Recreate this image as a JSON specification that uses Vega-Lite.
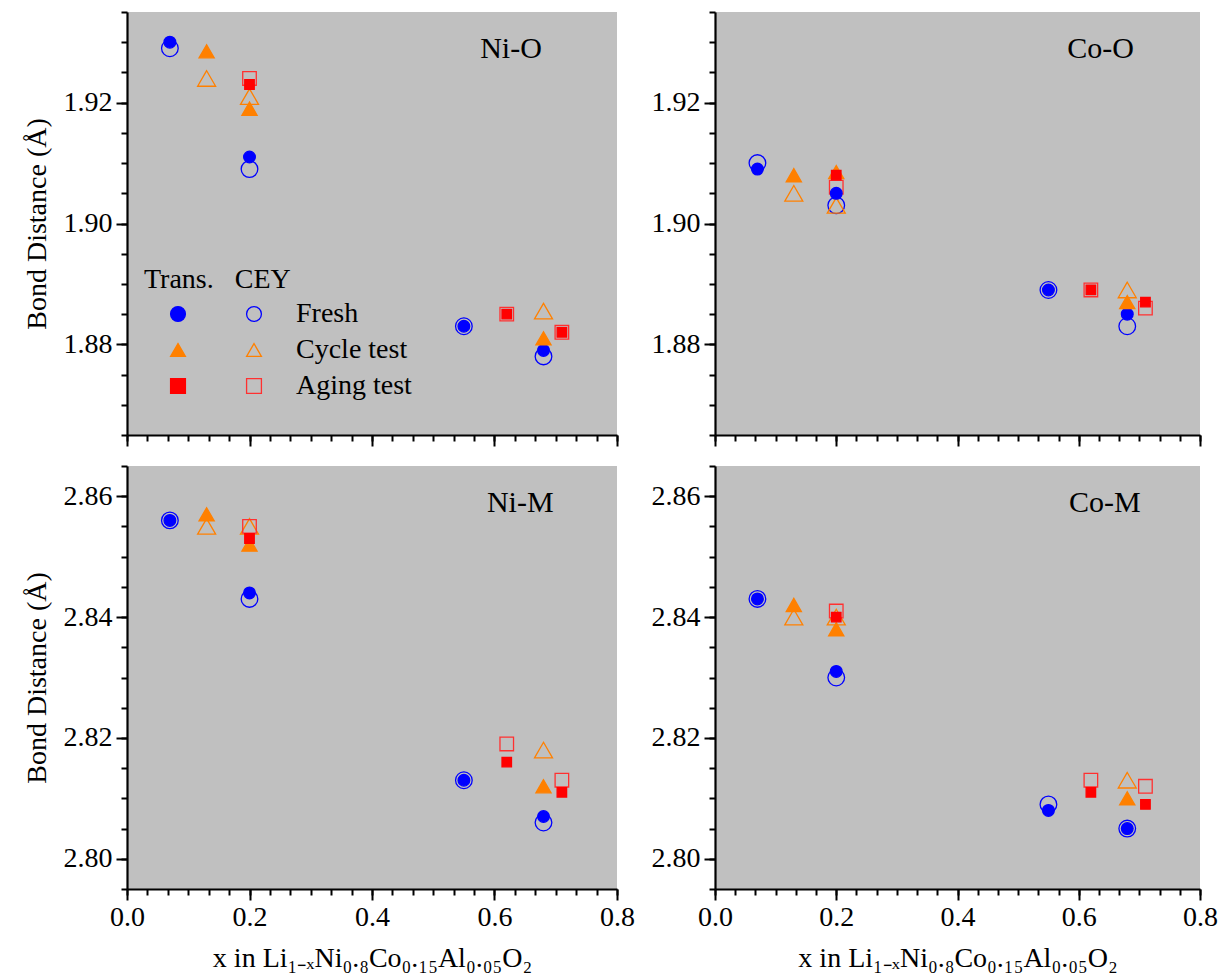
{
  "$schema": "https://vega.github.io/schema/vega-lite/v6.json",
  "padding": {"left": 23, "top": 11, "right": 5, "bottom": 5},
  "datasets": {
    "bonds": [
      {"panel": "Ni-O", "series": "CEY Fresh", "x": 0.07, "d": 1.929},
      {"panel": "Ni-O", "series": "CEY Fresh", "x": 0.2, "d": 1.909},
      {"panel": "Ni-O", "series": "CEY Fresh", "x": 0.55, "d": 1.883},
      {"panel": "Ni-O", "series": "CEY Fresh", "x": 0.68, "d": 1.878},
      {"panel": "Ni-O", "series": "CEY Cycle test", "x": 0.13, "d": 1.924},
      {"panel": "Ni-O", "series": "CEY Cycle test", "x": 0.2, "d": 1.921},
      {"panel": "Ni-O", "series": "CEY Cycle test", "x": 0.68, "d": 1.8855},
      {"panel": "Ni-O", "series": "CEY Aging test", "x": 0.2, "d": 1.924},
      {"panel": "Ni-O", "series": "CEY Aging test", "x": 0.62, "d": 1.885},
      {"panel": "Ni-O", "series": "CEY Aging test", "x": 0.71, "d": 1.882},
      {"panel": "Ni-O", "series": "Trans. Fresh", "x": 0.07, "d": 1.930},
      {"panel": "Ni-O", "series": "Trans. Fresh", "x": 0.2, "d": 1.911},
      {"panel": "Ni-O", "series": "Trans. Fresh", "x": 0.55, "d": 1.883},
      {"panel": "Ni-O", "series": "Trans. Fresh", "x": 0.68, "d": 1.879},
      {"panel": "Ni-O", "series": "Trans. Cycle test", "x": 0.13, "d": 1.9285},
      {"panel": "Ni-O", "series": "Trans. Cycle test", "x": 0.2, "d": 1.919},
      {"panel": "Ni-O", "series": "Trans. Cycle test", "x": 0.68, "d": 1.881},
      {"panel": "Ni-O", "series": "Trans. Aging test", "x": 0.2, "d": 1.923},
      {"panel": "Ni-O", "series": "Trans. Aging test", "x": 0.62, "d": 1.885},
      {"panel": "Ni-O", "series": "Trans. Aging test", "x": 0.71, "d": 1.882},

      {"panel": "Co-O", "series": "CEY Fresh", "x": 0.07, "d": 1.910},
      {"panel": "Co-O", "series": "CEY Fresh", "x": 0.2, "d": 1.903},
      {"panel": "Co-O", "series": "CEY Fresh", "x": 0.55, "d": 1.889},
      {"panel": "Co-O", "series": "CEY Fresh", "x": 0.68, "d": 1.883},
      {"panel": "Co-O", "series": "CEY Cycle test", "x": 0.13, "d": 1.905},
      {"panel": "Co-O", "series": "CEY Cycle test", "x": 0.2, "d": 1.903},
      {"panel": "Co-O", "series": "CEY Cycle test", "x": 0.68, "d": 1.889},
      {"panel": "Co-O", "series": "CEY Aging test", "x": 0.2, "d": 1.906},
      {"panel": "Co-O", "series": "CEY Aging test", "x": 0.62, "d": 1.889},
      {"panel": "Co-O", "series": "CEY Aging test", "x": 0.71, "d": 1.886},
      {"panel": "Co-O", "series": "Trans. Fresh", "x": 0.07, "d": 1.909},
      {"panel": "Co-O", "series": "Trans. Fresh", "x": 0.2, "d": 1.905},
      {"panel": "Co-O", "series": "Trans. Fresh", "x": 0.55, "d": 1.889},
      {"panel": "Co-O", "series": "Trans. Fresh", "x": 0.68, "d": 1.885},
      {"panel": "Co-O", "series": "Trans. Cycle test", "x": 0.13, "d": 1.908},
      {"panel": "Co-O", "series": "Trans. Cycle test", "x": 0.2, "d": 1.9085},
      {"panel": "Co-O", "series": "Trans. Cycle test", "x": 0.68, "d": 1.887},
      {"panel": "Co-O", "series": "Trans. Aging test", "x": 0.2, "d": 1.908},
      {"panel": "Co-O", "series": "Trans. Aging test", "x": 0.62, "d": 1.889},
      {"panel": "Co-O", "series": "Trans. Aging test", "x": 0.71, "d": 1.887},

      {"panel": "Ni-M", "series": "CEY Fresh", "x": 0.07, "d": 2.856},
      {"panel": "Ni-M", "series": "CEY Fresh", "x": 0.2, "d": 2.843},
      {"panel": "Ni-M", "series": "CEY Fresh", "x": 0.55, "d": 2.813},
      {"panel": "Ni-M", "series": "CEY Fresh", "x": 0.68, "d": 2.806},
      {"panel": "Ni-M", "series": "CEY Cycle test", "x": 0.13, "d": 2.855},
      {"panel": "Ni-M", "series": "CEY Cycle test", "x": 0.2, "d": 2.855},
      {"panel": "Ni-M", "series": "CEY Cycle test", "x": 0.68, "d": 2.818},
      {"panel": "Ni-M", "series": "CEY Aging test", "x": 0.2, "d": 2.855},
      {"panel": "Ni-M", "series": "CEY Aging test", "x": 0.62, "d": 2.819},
      {"panel": "Ni-M", "series": "CEY Aging test", "x": 0.71, "d": 2.813},
      {"panel": "Ni-M", "series": "Trans. Fresh", "x": 0.07, "d": 2.856},
      {"panel": "Ni-M", "series": "Trans. Fresh", "x": 0.2, "d": 2.844},
      {"panel": "Ni-M", "series": "Trans. Fresh", "x": 0.55, "d": 2.813},
      {"panel": "Ni-M", "series": "Trans. Fresh", "x": 0.68, "d": 2.807},
      {"panel": "Ni-M", "series": "Trans. Cycle test", "x": 0.13, "d": 2.857},
      {"panel": "Ni-M", "series": "Trans. Cycle test", "x": 0.2, "d": 2.852},
      {"panel": "Ni-M", "series": "Trans. Cycle test", "x": 0.68, "d": 2.812},
      {"panel": "Ni-M", "series": "Trans. Aging test", "x": 0.2, "d": 2.853},
      {"panel": "Ni-M", "series": "Trans. Aging test", "x": 0.62, "d": 2.816},
      {"panel": "Ni-M", "series": "Trans. Aging test", "x": 0.71, "d": 2.811},

      {"panel": "Co-M", "series": "CEY Fresh", "x": 0.07, "d": 2.843},
      {"panel": "Co-M", "series": "CEY Fresh", "x": 0.2, "d": 2.830},
      {"panel": "Co-M", "series": "CEY Fresh", "x": 0.55, "d": 2.809},
      {"panel": "Co-M", "series": "CEY Fresh", "x": 0.68, "d": 2.805},
      {"panel": "Co-M", "series": "CEY Cycle test", "x": 0.13, "d": 2.840},
      {"panel": "Co-M", "series": "CEY Cycle test", "x": 0.2, "d": 2.840},
      {"panel": "Co-M", "series": "CEY Cycle test", "x": 0.68, "d": 2.813},
      {"panel": "Co-M", "series": "CEY Aging test", "x": 0.2, "d": 2.841},
      {"panel": "Co-M", "series": "CEY Aging test", "x": 0.62, "d": 2.813},
      {"panel": "Co-M", "series": "CEY Aging test", "x": 0.71, "d": 2.812},
      {"panel": "Co-M", "series": "Trans. Fresh", "x": 0.07, "d": 2.843},
      {"panel": "Co-M", "series": "Trans. Fresh", "x": 0.2, "d": 2.831},
      {"panel": "Co-M", "series": "Trans. Fresh", "x": 0.55, "d": 2.808},
      {"panel": "Co-M", "series": "Trans. Fresh", "x": 0.68, "d": 2.805},
      {"panel": "Co-M", "series": "Trans. Cycle test", "x": 0.13, "d": 2.842},
      {"panel": "Co-M", "series": "Trans. Cycle test", "x": 0.2, "d": 2.838},
      {"panel": "Co-M", "series": "Trans. Cycle test", "x": 0.68, "d": 2.810},
      {"panel": "Co-M", "series": "Trans. Aging test", "x": 0.2, "d": 2.840},
      {"panel": "Co-M", "series": "Trans. Aging test", "x": 0.62, "d": 2.811},
      {"panel": "Co-M", "series": "Trans. Aging test", "x": 0.71, "d": 2.809}
    ]
  },
  "columns": 2,
  "bounds": "flush",
  "spacing": {"row": 31, "column": 98},
  "concat": [
    {
      "width": 490, "height": 423,
      "resolve": {"axis": {"x": "independent", "y": "independent"}},
      "layer": [
        {
          "data": {"name": "bonds"},
          "transform": [{"filter": "datum.panel == 'Ni-O'"}],
          "mark": {"type": "point", "opacity": 1, "strokeWidth": 1.3},
          "encoding": {
            "x": {"field": "x", "type": "quantitative", "scale": {"domain": [0, 0.8], "nice": false, "zero": false},
              "axis": {"values": [0, 0.2, 0.4, 0.6, 0.8], "tickSize": 11, "labels": false, "title": null, "orient": "bottom"}},
            "y": {"field": "d", "type": "quantitative", "scale": {"domain": [1.865, 1.935], "nice": false, "zero": false},
              "axis": {"values": [1.88, 1.9, 1.92], "tickSize": 11, "format": ".2f", "labelPadding": 4, "title": "Bond Distance (Å)", "titlePadding": 12, "orient": "left"}},
            "fill": {"field": "series", "type": "nominal",
              "scale": {"domain": ["Trans. Fresh", "Trans. Cycle test", "Trans. Aging test", "CEY Fresh", "CEY Cycle test", "CEY Aging test"], "range": ["#0000ff", "#ff8000", "#ff0000", "transparent", "transparent", "transparent"]},
              "legend": {"title": "Trans.\u00a0\u00a0\u00a0CEY", "orient": "none", "legendX": 17, "legendY": 254, "columns": 2, "labelExpr": "indexof(datum.label,'CEY ')==0 ? substring(datum.label,4) : ''", "symbolSize": 220, "symbolStrokeWidth": 1.3, "symbolOffset": 20, "labelOffset": 28, "columnPadding": -36, "rowPadding": 8, "titlePadding": 6}},
            "stroke": {"field": "series", "type": "nominal",
              "scale": {"domain": ["Trans. Fresh", "Trans. Cycle test", "Trans. Aging test", "CEY Fresh", "CEY Cycle test", "CEY Aging test"], "range": ["#0000ff", "#ff8000", "#ff0000", "#0000ff", "#ff8000", "#ff3030"]},
              "legend": {"title": "Trans.\u00a0\u00a0\u00a0CEY", "orient": "none", "legendX": 17, "legendY": 254, "columns": 2, "labelExpr": "indexof(datum.label,'CEY ')==0 ? substring(datum.label,4) : ''", "symbolSize": 220, "symbolStrokeWidth": 1.3, "symbolOffset": 20, "labelOffset": 28, "columnPadding": -36, "rowPadding": 8, "titlePadding": 6}},
            "shape": {"field": "series", "type": "nominal",
              "scale": {"domain": ["Trans. Fresh", "Trans. Cycle test", "Trans. Aging test", "CEY Fresh", "CEY Cycle test", "CEY Aging test"], "range": ["circle", "triangle-up", "square", "circle", "triangle-up", "square"]},
              "legend": {"title": "Trans.\u00a0\u00a0\u00a0CEY", "orient": "none", "legendX": 17, "legendY": 254, "columns": 2, "labelExpr": "indexof(datum.label,'CEY ')==0 ? substring(datum.label,4) : ''", "symbolSize": 220, "symbolStrokeWidth": 1.3, "symbolOffset": 20, "labelOffset": 28, "columnPadding": -36, "rowPadding": 8, "titlePadding": 6}},
            "size": {"field": "series", "type": "nominal",
              "scale": {"type": "point", "domain": ["Trans. Aging test", "Trans. Fresh", "CEY Aging test", "Trans. Cycle test", "CEY Fresh", "CEY Cycle test"], "range": [90, 324]},
              "legend": null}
          }
        },
        {
          "data": {"values": [{"label": "Ni-O"}]},
          "mark": {"type": "text", "fontSize": 30, "font": "Liberation Serif", "color": "#000000"},
          "encoding": {
            "x": {"datum": 0.627, "type": "quantitative", "axis": {"values": [0, 0.0333333, 0.0666667, 0.1, 0.1333333, 0.1666667, 0.2, 0.2333333, 0.2666667, 0.3, 0.3333333, 0.3666667, 0.4, 0.4333333, 0.4666667, 0.5, 0.5333333, 0.5666667, 0.6, 0.6333333, 0.6666667, 0.7, 0.7333333, 0.7666667, 0.8], "tickSize": 6, "labels": false, "domain": false, "title": null, "orient": "bottom"}},
            "y": {"datum": 1.9288, "type": "quantitative", "axis": {"values": [1.865, 1.87, 1.875, 1.88, 1.885, 1.89, 1.895, 1.9, 1.905, 1.91, 1.915, 1.92, 1.925, 1.93, 1.935], "tickSize": 6, "labels": false, "domain": false, "title": null, "orient": "left"}},
            "text": {"field": "label"}
          }
        }
      ]
    },
    {
      "width": 485, "height": 423,
      "resolve": {"axis": {"x": "independent", "y": "independent"}},
      "layer": [
        {
          "data": {"name": "bonds"},
          "transform": [{"filter": "datum.panel == 'Co-O'"}],
          "mark": {"type": "point", "opacity": 1, "strokeWidth": 1.3},
          "encoding": {
            "x": {"field": "x", "type": "quantitative", "scale": {"domain": [0, 0.8], "nice": false, "zero": false},
              "axis": {"values": [0, 0.2, 0.4, 0.6, 0.8], "tickSize": 11, "labels": false, "title": null, "orient": "bottom"}},
            "y": {"field": "d", "type": "quantitative", "scale": {"domain": [1.865, 1.935], "nice": false, "zero": false},
              "axis": {"values": [1.88, 1.9, 1.92], "tickSize": 11, "format": ".2f", "labelPadding": 4, "title": null, "orient": "left"}},
            "fill": {"field": "series", "type": "nominal",
              "scale": {"domain": ["Trans. Fresh", "Trans. Cycle test", "Trans. Aging test", "CEY Fresh", "CEY Cycle test", "CEY Aging test"], "range": ["#0000ff", "#ff8000", "#ff0000", "transparent", "transparent", "transparent"]},
              "legend": {"title": "Trans.\u00a0\u00a0\u00a0CEY", "orient": "none", "legendX": 17, "legendY": 254, "columns": 2, "labelExpr": "indexof(datum.label,'CEY ')==0 ? substring(datum.label,4) : ''", "symbolSize": 220, "symbolStrokeWidth": 1.3, "symbolOffset": 20, "labelOffset": 28, "columnPadding": -36, "rowPadding": 8, "titlePadding": 6}},
            "stroke": {"field": "series", "type": "nominal",
              "scale": {"domain": ["Trans. Fresh", "Trans. Cycle test", "Trans. Aging test", "CEY Fresh", "CEY Cycle test", "CEY Aging test"], "range": ["#0000ff", "#ff8000", "#ff0000", "#0000ff", "#ff8000", "#ff3030"]},
              "legend": {"title": "Trans.\u00a0\u00a0\u00a0CEY", "orient": "none", "legendX": 17, "legendY": 254, "columns": 2, "labelExpr": "indexof(datum.label,'CEY ')==0 ? substring(datum.label,4) : ''", "symbolSize": 220, "symbolStrokeWidth": 1.3, "symbolOffset": 20, "labelOffset": 28, "columnPadding": -36, "rowPadding": 8, "titlePadding": 6}},
            "shape": {"field": "series", "type": "nominal",
              "scale": {"domain": ["Trans. Fresh", "Trans. Cycle test", "Trans. Aging test", "CEY Fresh", "CEY Cycle test", "CEY Aging test"], "range": ["circle", "triangle-up", "square", "circle", "triangle-up", "square"]},
              "legend": {"title": "Trans.\u00a0\u00a0\u00a0CEY", "orient": "none", "legendX": 17, "legendY": 254, "columns": 2, "labelExpr": "indexof(datum.label,'CEY ')==0 ? substring(datum.label,4) : ''", "symbolSize": 220, "symbolStrokeWidth": 1.3, "symbolOffset": 20, "labelOffset": 28, "columnPadding": -36, "rowPadding": 8, "titlePadding": 6}},
            "size": {"field": "series", "type": "nominal",
              "scale": {"type": "point", "domain": ["Trans. Aging test", "Trans. Fresh", "CEY Aging test", "Trans. Cycle test", "CEY Fresh", "CEY Cycle test"], "range": [90, 324]},
              "legend": null}
          }
        },
        {
          "data": {"values": [{"label": "Co-O"}]},
          "mark": {"type": "text", "fontSize": 30, "font": "Liberation Serif", "color": "#000000"},
          "encoding": {
            "x": {"datum": 0.636, "type": "quantitative", "axis": {"values": [0, 0.0333333, 0.0666667, 0.1, 0.1333333, 0.1666667, 0.2, 0.2333333, 0.2666667, 0.3, 0.3333333, 0.3666667, 0.4, 0.4333333, 0.4666667, 0.5, 0.5333333, 0.5666667, 0.6, 0.6333333, 0.6666667, 0.7, 0.7333333, 0.7666667, 0.8], "tickSize": 6, "labels": false, "domain": false, "title": null, "orient": "bottom"}},
            "y": {"datum": 1.9288, "type": "quantitative", "axis": {"values": [1.865, 1.87, 1.875, 1.88, 1.885, 1.89, 1.895, 1.9, 1.905, 1.91, 1.915, 1.92, 1.925, 1.93, 1.935], "tickSize": 6, "labels": false, "domain": false, "title": null, "orient": "left"}},
            "text": {"field": "label"}
          }
        }
      ]
    },
    {
      "width": 490, "height": 423,
      "resolve": {"axis": {"x": "independent", "y": "independent"}},
      "layer": [
        {
          "data": {"name": "bonds"},
          "transform": [{"filter": "datum.panel == 'Ni-M'"}],
          "mark": {"type": "point", "opacity": 1, "strokeWidth": 1.3},
          "encoding": {
            "x": {"field": "x", "type": "quantitative", "scale": {"domain": [0, 0.8], "nice": false, "zero": false},
              "axis": {"values": [0, 0.2, 0.4, 0.6, 0.8], "tickSize": 11, "format": ".1f", "labelPadding": 3, "title": "x in Li₁₋ₓNi₀.₈Co₀.₁₅Al₀.₀₅O₂", "titlePadding": 13, "orient": "bottom"}},
            "y": {"field": "d", "type": "quantitative", "scale": {"domain": [2.795, 2.865], "nice": false, "zero": false},
              "axis": {"values": [2.8, 2.82, 2.84, 2.86], "tickSize": 11, "format": ".2f", "labelPadding": 4, "title": "Bond Distance (Å)", "titlePadding": 12, "orient": "left"}},
            "fill": {"field": "series", "type": "nominal",
              "scale": {"domain": ["Trans. Fresh", "Trans. Cycle test", "Trans. Aging test", "CEY Fresh", "CEY Cycle test", "CEY Aging test"], "range": ["#0000ff", "#ff8000", "#ff0000", "transparent", "transparent", "transparent"]},
              "legend": {"title": "Trans.\u00a0\u00a0\u00a0CEY", "orient": "none", "legendX": 17, "legendY": 254, "columns": 2, "labelExpr": "indexof(datum.label,'CEY ')==0 ? substring(datum.label,4) : ''", "symbolSize": 220, "symbolStrokeWidth": 1.3, "symbolOffset": 20, "labelOffset": 28, "columnPadding": -36, "rowPadding": 8, "titlePadding": 6}},
            "stroke": {"field": "series", "type": "nominal",
              "scale": {"domain": ["Trans. Fresh", "Trans. Cycle test", "Trans. Aging test", "CEY Fresh", "CEY Cycle test", "CEY Aging test"], "range": ["#0000ff", "#ff8000", "#ff0000", "#0000ff", "#ff8000", "#ff3030"]},
              "legend": {"title": "Trans.\u00a0\u00a0\u00a0CEY", "orient": "none", "legendX": 17, "legendY": 254, "columns": 2, "labelExpr": "indexof(datum.label,'CEY ')==0 ? substring(datum.label,4) : ''", "symbolSize": 220, "symbolStrokeWidth": 1.3, "symbolOffset": 20, "labelOffset": 28, "columnPadding": -36, "rowPadding": 8, "titlePadding": 6}},
            "shape": {"field": "series", "type": "nominal",
              "scale": {"domain": ["Trans. Fresh", "Trans. Cycle test", "Trans. Aging test", "CEY Fresh", "CEY Cycle test", "CEY Aging test"], "range": ["circle", "triangle-up", "square", "circle", "triangle-up", "square"]},
              "legend": {"title": "Trans.\u00a0\u00a0\u00a0CEY", "orient": "none", "legendX": 17, "legendY": 254, "columns": 2, "labelExpr": "indexof(datum.label,'CEY ')==0 ? substring(datum.label,4) : ''", "symbolSize": 220, "symbolStrokeWidth": 1.3, "symbolOffset": 20, "labelOffset": 28, "columnPadding": -36, "rowPadding": 8, "titlePadding": 6}},
            "size": {"field": "series", "type": "nominal",
              "scale": {"type": "point", "domain": ["Trans. Aging test", "Trans. Fresh", "CEY Aging test", "Trans. Cycle test", "CEY Fresh", "CEY Cycle test"], "range": [90, 324]},
              "legend": null}
          }
        },
        {
          "data": {"values": [{"label": "Ni-M"}]},
          "mark": {"type": "text", "fontSize": 30, "font": "Liberation Serif", "color": "#000000"},
          "encoding": {
            "x": {"datum": 0.642, "type": "quantitative", "axis": {"values": [0, 0.0333333, 0.0666667, 0.1, 0.1333333, 0.1666667, 0.2, 0.2333333, 0.2666667, 0.3, 0.3333333, 0.3666667, 0.4, 0.4333333, 0.4666667, 0.5, 0.5333333, 0.5666667, 0.6, 0.6333333, 0.6666667, 0.7, 0.7333333, 0.7666667, 0.8], "tickSize": 6, "labels": false, "domain": false, "title": null, "orient": "bottom"}},
            "y": {"datum": 2.8588, "type": "quantitative", "axis": {"values": [2.795, 2.8, 2.805, 2.81, 2.815, 2.82, 2.825, 2.83, 2.835, 2.84, 2.845, 2.85, 2.855, 2.86, 2.865], "tickSize": 6, "labels": false, "domain": false, "title": null, "orient": "left"}},
            "text": {"field": "label"}
          }
        }
      ]
    },
    {
      "width": 485, "height": 423,
      "resolve": {"axis": {"x": "independent", "y": "independent"}},
      "layer": [
        {
          "data": {"name": "bonds"},
          "transform": [{"filter": "datum.panel == 'Co-M'"}],
          "mark": {"type": "point", "opacity": 1, "strokeWidth": 1.3},
          "encoding": {
            "x": {"field": "x", "type": "quantitative", "scale": {"domain": [0, 0.8], "nice": false, "zero": false},
              "axis": {"values": [0, 0.2, 0.4, 0.6, 0.8], "tickSize": 11, "format": ".1f", "labelPadding": 3, "title": "x in Li₁₋ₓNi₀.₈Co₀.₁₅Al₀.₀₅O₂", "titlePadding": 13, "orient": "bottom"}},
            "y": {"field": "d", "type": "quantitative", "scale": {"domain": [2.795, 2.865], "nice": false, "zero": false},
              "axis": {"values": [2.8, 2.82, 2.84, 2.86], "tickSize": 11, "format": ".2f", "labelPadding": 4, "title": null, "orient": "left"}},
            "fill": {"field": "series", "type": "nominal",
              "scale": {"domain": ["Trans. Fresh", "Trans. Cycle test", "Trans. Aging test", "CEY Fresh", "CEY Cycle test", "CEY Aging test"], "range": ["#0000ff", "#ff8000", "#ff0000", "transparent", "transparent", "transparent"]},
              "legend": {"title": "Trans.\u00a0\u00a0\u00a0CEY", "orient": "none", "legendX": 17, "legendY": 254, "columns": 2, "labelExpr": "indexof(datum.label,'CEY ')==0 ? substring(datum.label,4) : ''", "symbolSize": 220, "symbolStrokeWidth": 1.3, "symbolOffset": 20, "labelOffset": 28, "columnPadding": -36, "rowPadding": 8, "titlePadding": 6}},
            "stroke": {"field": "series", "type": "nominal",
              "scale": {"domain": ["Trans. Fresh", "Trans. Cycle test", "Trans. Aging test", "CEY Fresh", "CEY Cycle test", "CEY Aging test"], "range": ["#0000ff", "#ff8000", "#ff0000", "#0000ff", "#ff8000", "#ff3030"]},
              "legend": {"title": "Trans.\u00a0\u00a0\u00a0CEY", "orient": "none", "legendX": 17, "legendY": 254, "columns": 2, "labelExpr": "indexof(datum.label,'CEY ')==0 ? substring(datum.label,4) : ''", "symbolSize": 220, "symbolStrokeWidth": 1.3, "symbolOffset": 20, "labelOffset": 28, "columnPadding": -36, "rowPadding": 8, "titlePadding": 6}},
            "shape": {"field": "series", "type": "nominal",
              "scale": {"domain": ["Trans. Fresh", "Trans. Cycle test", "Trans. Aging test", "CEY Fresh", "CEY Cycle test", "CEY Aging test"], "range": ["circle", "triangle-up", "square", "circle", "triangle-up", "square"]},
              "legend": {"title": "Trans.\u00a0\u00a0\u00a0CEY", "orient": "none", "legendX": 17, "legendY": 254, "columns": 2, "labelExpr": "indexof(datum.label,'CEY ')==0 ? substring(datum.label,4) : ''", "symbolSize": 220, "symbolStrokeWidth": 1.3, "symbolOffset": 20, "labelOffset": 28, "columnPadding": -36, "rowPadding": 8, "titlePadding": 6}},
            "size": {"field": "series", "type": "nominal",
              "scale": {"type": "point", "domain": ["Trans. Aging test", "Trans. Fresh", "CEY Aging test", "Trans. Cycle test", "CEY Fresh", "CEY Cycle test"], "range": [90, 324]},
              "legend": null}
          }
        },
        {
          "data": {"values": [{"label": "Co-M"}]},
          "mark": {"type": "text", "fontSize": 30, "font": "Liberation Serif", "color": "#000000"},
          "encoding": {
            "x": {"datum": 0.643, "type": "quantitative", "axis": {"values": [0, 0.0333333, 0.0666667, 0.1, 0.1333333, 0.1666667, 0.2, 0.2333333, 0.2666667, 0.3, 0.3333333, 0.3666667, 0.4, 0.4333333, 0.4666667, 0.5, 0.5333333, 0.5666667, 0.6, 0.6333333, 0.6666667, 0.7, 0.7333333, 0.7666667, 0.8], "tickSize": 6, "labels": false, "domain": false, "title": null, "orient": "bottom"}},
            "y": {"datum": 2.8588, "type": "quantitative", "axis": {"values": [2.795, 2.8, 2.805, 2.81, 2.815, 2.82, 2.825, 2.83, 2.835, 2.84, 2.845, 2.85, 2.855, 2.86, 2.865], "tickSize": 6, "labels": false, "domain": false, "title": null, "orient": "left"}},
            "text": {"field": "label"}
          }
        }
      ]
    }
  ],
  "config": {
    "font": "Liberation Serif",
    "view": {"stroke": null, "fill": "#c0c0c0"},
    "axis": {"domainColor": "#000000", "domainWidth": 2.2, "tickColor": "#000000", "tickWidth": 2, "labelFont": "Liberation Serif", "labelFontSize": 28, "labelColor": "#000000", "titleFont": "Liberation Serif", "titleFontSize": 28, "titleFontWeight": "normal", "titleColor": "#000000", "grid": false, "labelOverlap": false, "labelFlush": false},
    "legend": {"labelFont": "Liberation Serif", "labelFontSize": 28, "labelColor": "#000000", "titleFont": "Liberation Serif", "titleFontSize": 28, "titleFontWeight": "normal", "titleColor": "#000000", "labelLimit": 400, "titleLimit": 400}
  }
}
